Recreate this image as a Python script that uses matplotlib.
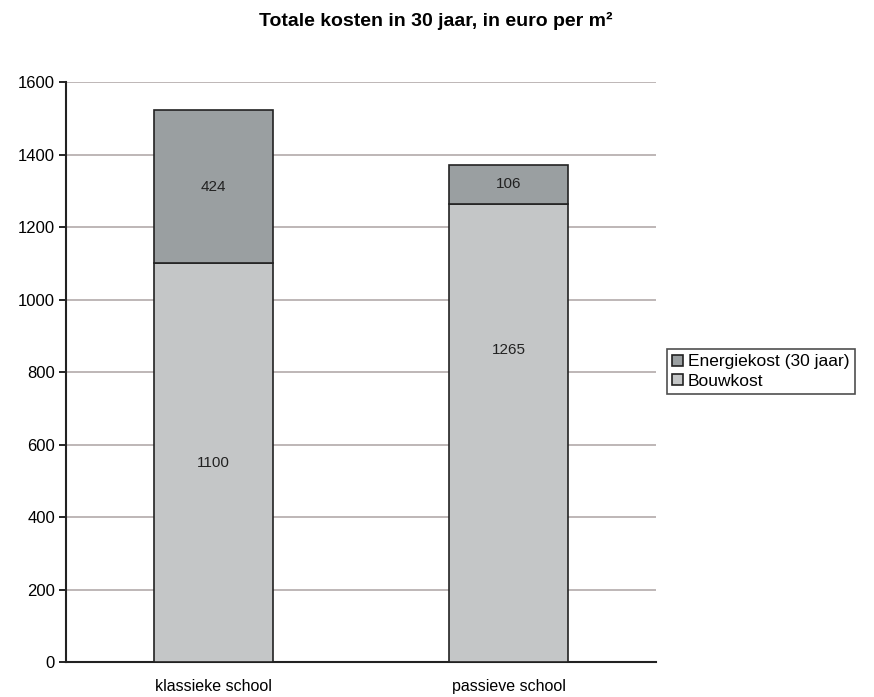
import matplotlib.pyplot as plt
import numpy as np

plt.rcParams['font.family'] = ['Liberation Sans', 'DejaVu Sans']

schools = ['klassieke school', 'passieve school']
bouwkost = [1100, 1265]
energiekost = [424, 106]

fig = plt.figure(figsize=(8.74, 6.97), dpi=100)
ax = fig.add_axes([0.0755, 0.050, 0.675, 0.832])

x = np.arange(len(schools))
w = 0.404
b1 = ax.bar(x, bouwkost, w, color='#c4c6c7', edgecolor='#222222', linewidth=1.2,
            label='Bouwkost', zorder=3)
b2 = ax.bar(x, energiekost, w, bottom=bouwkost, color='#9a9fa1', edgecolor='#222222',
            linewidth=1.2, label='Energiekost (30 jaar)', zorder=3)

# the label of the second bar sits higher than the middle in the original
lift = [0, 230]
for i in range(len(schools)):
    ax.text(x[i], bouwkost[i] / 2 + lift[i], str(bouwkost[i]), ha='center', va='center',
            fontsize=11, color='#222222', zorder=4)
    ax.text(x[i], bouwkost[i] + energiekost[i] / 2, str(energiekost[i]),
            ha='center', va='center', fontsize=11, color='#222222', zorder=4)

ax.set_xlim(-0.5, 1.5)
ax.set_ylim(0, 1600)
ax.set_yticks(range(0, 1601, 200))
ax.set_xticks(x)
ax.set_xticklabels(schools, fontsize=11.5)
ax.tick_params(axis='x', length=0, pad=12)
ax.tick_params(axis='y', length=5, width=1.2, labelsize=12, direction='out', pad=3)
ax.yaxis.grid(True, color='#b3aaaa', linewidth=1.2, zorder=0)

for s in ['top', 'right']:
    ax.spines[s].set_visible(False)
for s in ['left', 'bottom']:
    ax.spines[s].set_linewidth(1.5)
    ax.spines[s].set_color('#222222')

fig.text(0.498, 0.970, 'Totale kosten in 30 jaar, in euro per m²', ha='center', va='center',
         fontsize=14, fontweight='bold')

leg = ax.legend(handles=[b2, b1], loc='center left', bbox_to_anchor=(1.019, 0.501),
                frameon=True, fancybox=False, edgecolor='#222222', fontsize=12.5,
                handlelength=0.6, handleheight=0.6, handletextpad=0.3, borderpad=0.3,
                labelspacing=0.25, borderaxespad=0)
leg.get_frame().set_linewidth(1.2)

fig.savefig('out.png', dpi=100)
